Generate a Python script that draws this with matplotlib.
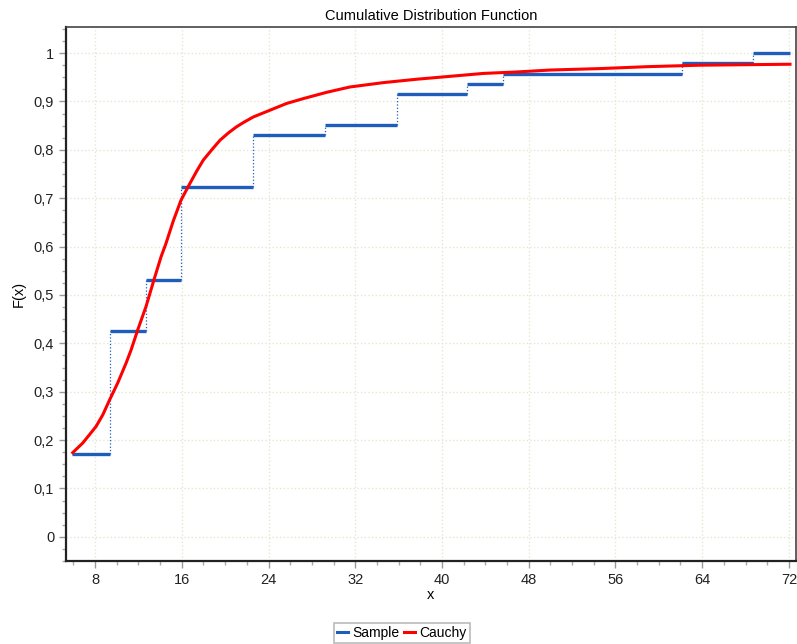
import matplotlib
matplotlib.use("Agg")
import matplotlib.pyplot as plt
from matplotlib.ticker import MultipleLocator, FuncFormatter
from matplotlib.lines import Line2D

plt.rcParams['font.family'] = ['Liberation Sans', 'DejaVu Sans']

# sample ECDF: step edges and levels (k/47)
step_edges = [5.88, 9.38, 12.70, 15.93, 22.58, 29.2, 35.86, 42.3, 45.64, 62.15, 68.7, 72.1]
step_counts = [8, 20, 25, 34, 39, 40, 43, 44, 45, 46, 47]
n_sample = 47

# fitted Cauchy CDF
cauchy_x = [5.94, 6.87, 8.09, 8.71, 9.32, 10.09, 10.86, 11.32, 11.94, 12.70,
            13.47, 14.09, 14.55, 15.2, 15.93, 16.76, 17.4, 17.99, 18.8, 19.53,
            20.3, 21.07, 21.8, 22.6, 24.14, 25.68, 27.22, 29.37, 31.52,
            34.6, 37.67, 40.75, 43.82, 46.9, 49.97, 54.6, 59.0, 63.8, 68.0, 72.1]
cauchy_f = [0.174, 0.194, 0.228, 0.252, 0.282, 0.318, 0.359, 0.386, 0.428, 0.476,
            0.534, 0.579, 0.607, 0.652, 0.696, 0.731, 0.757, 0.779, 0.801, 0.820,
            0.835, 0.848, 0.858, 0.868, 0.882, 0.896, 0.906, 0.919, 0.930,
            0.939, 0.946, 0.952, 0.958, 0.961, 0.965, 0.968, 0.972, 0.975, 0.976, 0.977]

blue = '#1f5dbd'
red = '#ff0000'

fig = plt.figure(figsize=(7.97, 6.44), dpi=100)
ax = fig.add_axes([0.0828, 0.1289, 0.9159, 0.8292])

levels = [c / n_sample for c in step_counts]

# dotted vertical connectors
ax.vlines(step_edges[1:-1], levels[:-1], levels[1:], colors=blue, linestyles=':', linewidth=0.9, zorder=2)
# horizontal steps
ax.hlines(levels, step_edges[:-1], step_edges[1:], colors=blue, linewidth=2.4, zorder=3)

ax.plot(cauchy_x, cauchy_f, color=red, linewidth=2.2, zorder=4)

ax.set_xlim(5.32, 72.65)
ax.set_ylim(-0.05, 1.054)

ax.xaxis.set_major_locator(MultipleLocator(8))
ax.xaxis.set_minor_locator(MultipleLocator(2))
ax.yaxis.set_major_locator(MultipleLocator(0.1))
ax.yaxis.set_minor_locator(MultipleLocator(0.025))


def comma_fmt(v, pos):
    s = '%.1f' % v
    if s.endswith('.0'):
        s = s[:-2]
    return s.replace('.', ',').replace('-0', '0')


ax.yaxis.set_major_formatter(FuncFormatter(comma_fmt))

ax.tick_params(which='major', direction='out', length=5, width=1, color='#999999',
               labelsize=10.5, labelcolor='#222222')
ax.tick_params(which='minor', direction='out', length=3, width=1, color='#aaaaaa')

ax.grid(which='major', color='#e6e6d2', linestyle=':', linewidth=1)
ax.set_axisbelow(True)

for side in ['left', 'bottom']:
    ax.spines[side].set_color('#222222')
    ax.spines[side].set_linewidth(1.6)
for side in ['top', 'right']:
    ax.spines[side].set_color('#444444')
    ax.spines[side].set_linewidth(1.2)

ax.set_title('Cumulative Distribution Function', fontsize=10.5, pad=5)
ax.set_xlabel('x', fontsize=10.5, labelpad=1)
ax.set_ylabel('F(x)', fontsize=10.5, labelpad=6)

handles = [Line2D([], [], color=blue, linewidth=2.2),
           Line2D([], [], color=red, linewidth=2.2)]
leg = fig.legend(handles, ['Sample', 'Cauchy'], loc='center', bbox_to_anchor=(0.504, 0.0171),
                 ncol=2, frameon=True, fancybox=False, fontsize=10, handlelength=0.8,
                 handletextpad=0.3, columnspacing=0.3, borderpad=0.25, borderaxespad=0)
leg.get_frame().set_edgecolor('#aaaaaa')
leg.get_frame().set_linewidth(1.2)

fig.savefig('out.png', dpi=100)
